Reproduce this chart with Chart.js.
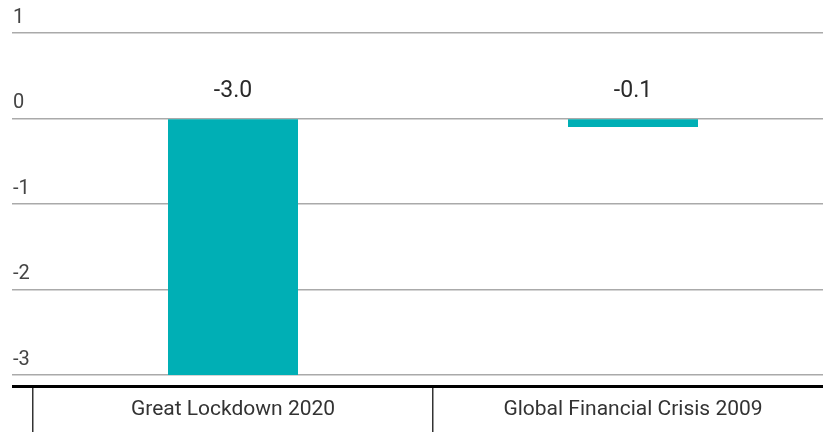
<!DOCTYPE html>
<html lang="en">
<head>
<meta charset="UTF-8">
<title>Great Lockdown vs Global Financial Crisis</title>
<script src="https://cdn.jsdelivr.net/npm/chart.js"></script>
<style>
  html, body { margin: 0; padding: 0; background: #fff; overflow: hidden; }
</style>
</head>
<body>
<canvas id="gdpChart" width="843" height="432"></canvas>
<script>
  const categories = ["Great Lockdown 2020", "Global Financial Crisis 2009"];
  const growth = [-3.0, -0.1];
  const yTicks = [1, 0, -1, -2, -3];
  const yMin = -3.13;
  const yMax = 1;

  const barColor = "#00AFB5";
  const font = "Roboto";

  // value labels sit above the zero line, tick labels above their grid line,
  // category names inside the boxes under the axis
  const labelPlugin = {
    id: "labels",
    afterDraw(chart) {
      const ctx = chart.ctx;
      const x = chart.scales.x;
      const y = chart.scales.y;
      const meta = chart.getDatasetMeta(0);
      ctx.save();
      ctx.textBaseline = "middle";
      ctx.textAlign = "center";
      ctx.fillStyle = "#2a2a2a";
      ctx.font = "23px " + font;
      meta.data.forEach((bar, i) => {
        ctx.fillText(growth[i].toFixed(1), bar.x, y.getPixelForValue(0) - 27);
      });
      ctx.fillStyle = "#333";
      ctx.font = "21px " + font;
      categories.forEach((c, i) => {
        ctx.fillText(c, x.getPixelForValue(i), x.top + 24);
      });
      ctx.textAlign = "left";
      ctx.fillStyle = "#444";
      ctx.font = "20px " + font;
      yTicks.forEach(v => {
        ctx.fillText(String(v), chart.chartArea.left - 20, y.getPixelForValue(v) - 15);
      });
      ctx.restore();
    }
  };

  const isBase = c => c.tick && c.tick.value === yMin;

  new Chart(document.getElementById("gdpChart"), {
    type: "bar",
    data: {
      labels: categories,
      datasets: [{
        data: growth,
        backgroundColor: barColor,
        borderWidth: 0,
        categoryPercentage: 1,
        barPercentage: 0.325
      }]
    },
    options: {
      responsive: false,
      animation: false,
      layout: { padding: { left: 12, right: 10, top: 33, bottom: 0 } },
      plugins: {
        legend: { display: false },
        tooltip: { enabled: false }
      },
      scales: {
        x: {
          grid: { offset: true, drawOnChartArea: false, drawTicks: true, tickLength: 46, color: "#333", lineWidth: 1.5 },
          border: { display: false },
          ticks: { display: false }
        },
        y: {
          min: yMin,
          max: yMax,
          afterBuildTicks: s => { s.ticks = [yMin].concat(yTicks).map(v => ({ value: v })); },
          grid: {
            drawTicks: true,
            tickLength: 21,
            color: c => isBase(c) ? "#000" : "#aaa",
            lineWidth: c => isBase(c) ? 3 : 1.5
          },
          border: { display: false },
          ticks: { display: false }
        }
      }
    },
    plugins: [labelPlugin]
  });
</script>
</body>
</html>
